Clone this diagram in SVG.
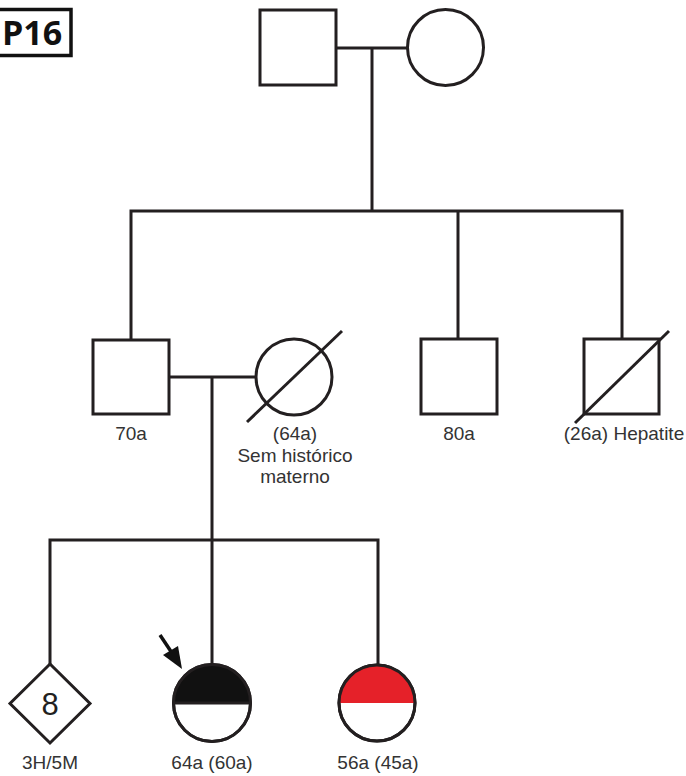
<svg xmlns="http://www.w3.org/2000/svg" width="686" height="776" viewBox="0 0 686 776">
  <style>
    .sym { fill: #ffffff; stroke: #231f20; stroke-width: 3; }
    .ln { fill: none; stroke: #231f20; stroke-width: 3; }
    .dead { stroke: #231f20; stroke-width: 3; }
    .lbl { font-family: "Liberation Sans", Arial, sans-serif; font-size: 19px; fill: #333333; text-anchor: middle; }
  </style>
  <defs>
    <clipPath id="topHalf">
      <rect x="0" y="0" width="686" height="703"/>
    </clipPath>
  </defs>
  <rect width="686" height="776" fill="#ffffff"/>

  <!-- pedigree tag -->
  <g id="tag">
    <rect x="-3" y="9.5" width="74" height="46" fill="#ffffff" stroke="#111111" stroke-width="3.5"/>
    <text x="2" y="45" font-family="'Open Sans', 'DejaVu Sans', sans-serif" font-size="34" font-weight="bold" fill="#111111">P16</text>
  </g>

  <!-- lines of descent and marriage -->
  <g id="connectors">
    <line class="ln" x1="336" y1="48" x2="407" y2="48"/>
    <line class="ln" x1="372" y1="48" x2="372" y2="211"/>
    <polyline class="ln" points="131,340 131,211 622,211 622,339"/>
    <line class="ln" x1="458" y1="211" x2="458" y2="339"/>
    <line class="ln" x1="169" y1="377" x2="256" y2="377"/>
    <line class="ln" x1="212" y1="377" x2="212" y2="664"/>
    <polyline class="ln" points="50,664 50,540 378,540 378,664"/>
  </g>

  <!-- generation I -->
  <g id="grandfather">
    <rect class="sym" x="260" y="10" width="76" height="75"/>
  </g>
  <g id="grandmother">
    <circle class="sym" cx="445.5" cy="47.5" r="38"/>
  </g>

  <!-- generation II -->
  <g id="father">
    <rect class="sym" x="93" y="340" width="76" height="74"/>
    <text class="lbl" x="131" y="440">70a</text>
  </g>
  <g id="mother">
    <circle class="sym" cx="294" cy="377" r="38"/>
    <line class="dead" x1="247" y1="422" x2="342" y2="331"/>
    <text class="lbl" x="295" y="440">(64a)</text>
    <text class="lbl" x="295" y="462">Sem histórico</text>
    <text class="lbl" x="295" y="483">materno</text>
  </g>
  <g id="uncle1">
    <rect class="sym" x="421" y="339" width="76" height="75"/>
    <text class="lbl" x="459" y="440">80a</text>
  </g>
  <g id="uncle2">
    <rect class="sym" x="584" y="339" width="75" height="75"/>
    <line class="dead" x1="575" y1="423" x2="669" y2="331"/>
    <text class="lbl" x="624" y="440">(26a) Hepatite</text>
  </g>

  <!-- generation III -->
  <g id="siblings">
    <polygon class="sym" points="50,664 90,703.5 50,743 10,703.5"/>
    <text x="50" y="715" font-family="'Liberation Sans', Arial, sans-serif" font-size="31" fill="#231f20" text-anchor="middle">8</text>
    <text class="lbl" x="50" y="769">3H/5M</text>
  </g>
  <g id="proband">
    <circle class="sym" cx="212" cy="703" r="38.5"/>
    <circle cx="212" cy="703" r="38.5" fill="#111111" clip-path="url(#topHalf)"/>
    <line class="ln" x1="174" y1="703" x2="250" y2="703"/>
    <circle cx="212" cy="703" r="38.5" fill="none" stroke="#231f20" stroke-width="3"/>
    <line x1="160" y1="635" x2="172" y2="653" stroke="#111111" stroke-width="3.5"/>
    <polygon points="182,669 163,655 178,646" fill="#111111"/>
    <text class="lbl" x="212" y="769">64a (60a)</text>
  </g>
  <g id="sister">
    <circle class="sym" cx="377" cy="703" r="38"/>
    <circle cx="377" cy="703" r="38" fill="#e52129" clip-path="url(#topHalf)"/>
    <circle cx="377" cy="703" r="38" fill="none" stroke="#231f20" stroke-width="3"/>
    <text class="lbl" x="378" y="769">56a (45a)</text>
  </g>
</svg>
